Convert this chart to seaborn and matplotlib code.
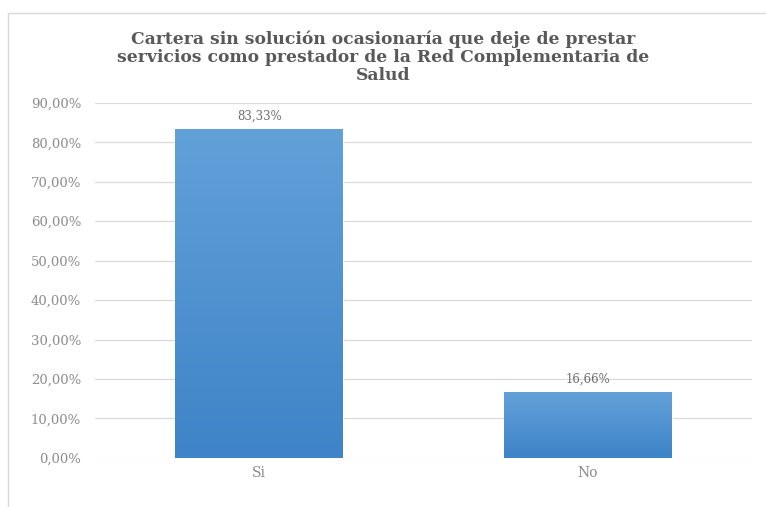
import matplotlib
matplotlib.use("Agg")
import matplotlib.pyplot as plt
import matplotlib.patches as mpatches
from matplotlib.colors import LinearSegmentedColormap
import seaborn as sns
import numpy as np
import pandas as pd

# ── Data ─────────────────────────────────────────────
categorias = ["Si", "No"]
porcentajes = [83.33, 16.66]
etiquetas = ["83,33%", "16,66%"]
ticks_y = [0, 10, 20, 30, 40, 50, 60, 70, 80, 90]

titulo = ("Cartera sin solución ocasionaría que deje de prestar\n"
          "servicios como prestador de la Red Complementaria de\n"
          "Salud")

df = pd.DataFrame({"Respuesta": categorias, "Porcentaje": porcentajes})

sns.set_style("white")
plt.rcParams["font.family"] = ["DejaVu Serif"]

fig = plt.figure(figsize=(7.66, 5.07), dpi=100)
ax = fig.add_axes([0.124, 0.097, 0.858, 0.700])

sns.barplot(data=df, x="Respuesta", y="Porcentaje", color="#4a8ed0",
            width=0.51, saturation=1, ax=ax, zorder=3)

# gradient fill on the bars (lighter on top, like the office chart)
grad = LinearSegmentedColormap.from_list("g", ["#3f84c8", "#62a0d8"])
for bar in ax.patches:
    x0, w, h = bar.get_x(), bar.get_width(), bar.get_height()
    img = ax.imshow(np.linspace(0, 1, 100).reshape(-1, 1), cmap=grad,
                    aspect="auto", origin="lower",
                    extent=[x0, x0 + w, 0, h], zorder=3.5)
    img.set_clip_path(bar)
ax.set_xlim(-0.5, 1.5)

ax.set_ylim(0, 90)
ax.set_yticks(ticks_y)
ax.set_yticklabels([f"{t},00%" for t in ticks_y], color="#8c8c8c", fontsize=9.5)
ax.set_xticks(range(len(categorias)))
ax.set_xticklabels(categorias, color="#8c8c8c", fontsize=10)
ax.tick_params(axis="y", length=0, pad=10)
ax.tick_params(axis="x", length=0, pad=6)
ax.set_xlabel("")
ax.set_ylabel("")
ax.grid(axis="y", color="#d9d9d9", linewidth=0.9, zorder=0)
for s in ax.spines.values():
    s.set_visible(False)

for bar, txt in zip(ax.patches, etiquetas):
    ax.text(bar.get_x() + bar.get_width() / 2, bar.get_height() + 1.6, txt,
            ha="center", va="bottom", fontsize=8.5, color="#6e6e6e")

fig.text(0.5, 0.94, titulo, ha="center", va="top", fontsize=12.3,
         fontweight="bold", color="#595959", linespacing=1.08)

# outer chart border
fig.patches.append(mpatches.Rectangle((0.011, -0.01), 1.0, 0.985,
                                      transform=fig.transFigure,
                                      fill=False, edgecolor="#d9d9d9",
                                      linewidth=1.0))

plt.savefig("out.png", dpi=100)
